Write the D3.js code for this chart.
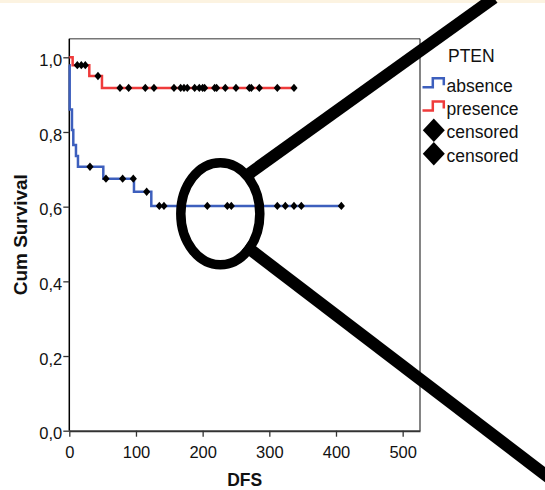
<!DOCTYPE html>
<html lang="en">
<head>
  <meta charset="UTF-8">
  <title>PTEN survival</title>
  <style>
    body { margin: 0; background: #ffffff; }
    svg { display: block; }
    svg text { font-family: Arial, "Liberation Sans", Helvetica, sans-serif; }
    .tick text { font-size: 16.5px; fill: #111; }
    .axis-title { font-size: 17.5px; font-weight: bold; fill: #111; }
    .legend text { font-size: 17.5px; fill: #111; }
  </style>
</head>
<body>
  <div id="chart"></div>

  <script src="https://d3js.org/d3.v7.min.js"></script>
  <script>
    // PTEN absence
    const absenceTimes = [0, 0.6, 4, 6, 10, 13, 51, 97, 123];
    const absenceSurv = [0.979, 0.86, 0.805, 0.765, 0.736, 0.707, 0.675, 0.64, 0.602];
    const absenceEnd = 408;
    const absenceCensored = [31, 55, 80, 96, 116, 135, 142, 207, 237, 243, 312, 324, 337, 348, 408];

    // PTEN presence
    const presenceTimes = [0, 5, 30, 49];
    const presenceSurv = [1, 0.979, 0.95, 0.918];
    const presenceEnd = 337;
    const presenceCensored = [12, 18, 24, 43, 76, 89, 114, 127, 157, 167, 172, 177, 188, 195,
                              200, 203, 218, 221, 234, 250, 270, 273, 285, 312, 337];

    const xTicks = [0, 100, 200, 300, 400, 500];
    const yTicks = [0, 0.2, 0.4, 0.6, 0.8, 1.0];
    const legendLabels = ["absence", "presence", "censored", "censored"];

    const width = 545, height = 490;
    const blue = "#3d5fbd", red = "#ef3b3b";

    const svg = d3.select("#chart").append("svg")
      .attr("width", width)
      .attr("height", height);

    // thin cream band at the top
    svg.append("rect").attr("x", 0).attr("y", 0).attr("width", width).attr("height", 3)
      .attr("fill", "#fcf3e1");

    const x = d3.scaleLinear().domain([0, 526]).range([69.3, 420]);
    const y = d3.scaleLinear().domain([0, 1]).range([430.7, 57.3]);

    const fmt = d => d3.format(".1f")(d).replace(".", ",");

    // frame: top and right
    svg.append("line").attr("x1", x(0)).attr("x2", x(526)).attr("y1", y(1.05) ).attr("y2", y(1.05))
      .attr("stroke", "#777").attr("stroke-width", 1.5);
    svg.append("line").attr("x1", x(526)).attr("x2", x(526)).attr("y1", y(1.05)).attr("y2", y(0))
      .attr("stroke", "#333").attr("stroke-width", 1.2);

    // axes
    const xAxis = svg.append("g")
      .attr("transform", `translate(0,${y(0)})`)
      .call(d3.axisBottom(x).tickValues(xTicks).tickSize(6).tickPadding(10).tickSizeOuter(0));
    xAxis.select(".domain").attr("stroke", "#333").attr("stroke-width", 2);
    xAxis.selectAll(".tick line").attr("stroke", "#333").attr("stroke-width", 1.3);

    const yAxis = svg.append("g")
      .attr("transform", `translate(${x(0)},0)`)
      .call(d3.axisLeft(y).tickValues(yTicks).tickFormat(fmt).tickSize(6).tickPadding(1).tickSizeOuter(0));
    yAxis.select(".domain").attr("d", `M0,${y(1.05)}V${y(0)}`).attr("stroke", "#000").attr("stroke-width", 1.5);
    yAxis.selectAll(".tick line").attr("stroke", "#333").attr("stroke-width", 1.3);
    yAxis.selectAll(".tick text").attr("dy", "0.5em");
    svg.selectAll("g").attr("font-family", null).attr("font-size", null);

    svg.append("text").attr("class", "axis-title")
      .attr("x", x(263)).attr("y", 486)
      .attr("text-anchor", "middle")
      .text("DFS");

    svg.append("text").attr("class", "axis-title")
      .attr("transform", `translate(26.5,${y(0.525)}) rotate(-90)`)
      .attr("text-anchor", "middle")
      .attr("textLength", 121).attr("lengthAdjust", "spacingAndGlyphs")
      .text("Cum Survival");

    // survival curves
    const groups = [
      { times: absenceTimes, surv: absenceSurv, end: absenceEnd, cens: absenceCensored, color: blue },
      { times: presenceTimes, surv: presenceSurv, end: presenceEnd, cens: presenceCensored, color: red }
    ];

    const line = d3.line().x(d => x(d[0])).y(d => y(d[1])).curve(d3.curveStepAfter);
    const diamond = (w, h) => `M0,${-h}L${w},0L0,${h}L${-w},0Z`;

    groups.forEach(g => {
      const pts = g.times.map((t, i) => [t, g.surv[i]]);
      pts.push([g.end, g.surv[g.surv.length - 1]]);
      svg.append("path").attr("d", line(pts))
        .attr("fill", "none").attr("stroke", g.color).attr("stroke-width", 2.5);

      const survAt = t => g.surv[Math.max(0, d3.bisectRight(g.times, t) - 1)];
      svg.append("g").selectAll("path")
        .data(g.cens)
        .join("path")
        .attr("transform", d => `translate(${x(d)},${y(survAt(d))})`)
        .attr("d", diamond(3.6, 4.2))
        .attr("fill", "#000");
    });

    // legend
    const legend = svg.append("g").attr("class", "legend");
    legend.append("text").attr("x", 448).attr("y", 62).text("PTEN");
    const rowY = i => 91.5 + i * 23.4;
    legendLabels.forEach((lab, i) => {
      legend.append("text").attr("x", 446.5).attr("y", rowY(i)).text(lab);
    });
    [blue, red].forEach((c, i) => {
      const b = rowY(i) - 4.3;
      legend.append("path")
        .attr("d", `M422.5,${b}H432.8V${b - 9}H443.8V${b - 2}`)
        .attr("fill", "none").attr("stroke", c).attr("stroke-width", 2.5);
    });
    [2, 3].forEach(i => {
      legend.append("path")
        .attr("transform", `translate(433.8,${rowY(i) - 8})`)
        .attr("d", diamond(11, 11.7))
        .attr("fill", "#000");
    });

    // magnifier annotation
    const cx = x(226.5), cy = y(0.581);
    const mag = svg.append("g").attr("fill", "none").attr("stroke", "#000");
    mag.append("ellipse").attr("cx", cx).attr("cy", cy).attr("rx", 39.5).attr("ry", 51)
      .attr("stroke-width", 9.5);
    mag.append("line").attr("x1", cx + 26).attr("y1", cy - 38).attr("x2", 494).attr("y2", -2)
      .attr("stroke-width", 12);
    mag.append("line").attr("x1", cx + 25).attr("y1", cy + 32).attr("x2", 552).attr("y2", 480)
      .attr("stroke-width", 12);
  </script>
</body>
</html>
